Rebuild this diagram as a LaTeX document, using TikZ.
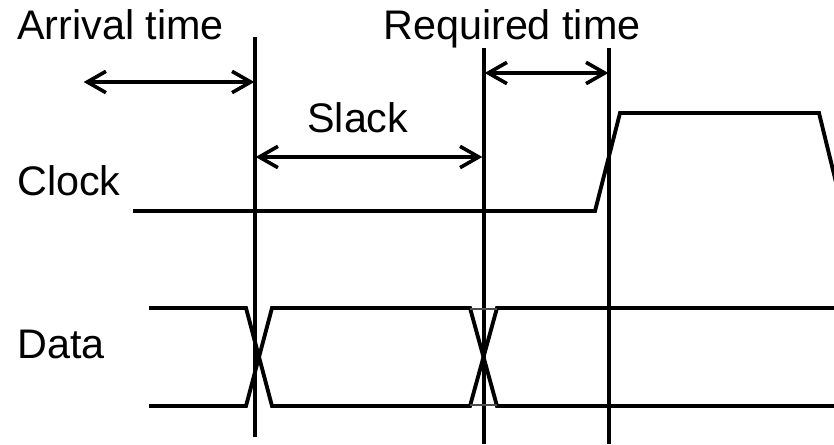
\documentclass[tikz,border=0pt]{standalone}
\usepackage{fontspec}
\setmainfont{Liberation Sans}
\usetikzlibrary{arrows.meta}

\tikzset{
  lbl/.style={anchor=base west, inner sep=0pt, font=\fontsize{31}{36}\selectfont},
  wave/.style={line width=2.9pt, line join=miter},
  marker/.style={line width=2.7pt},
  span/.style={line width=2.7pt, {Straight Barb[length=14pt,width=16pt,line width=2.7pt]}-{Straight Barb[length=14pt,width=16pt,line width=2.7pt]}, shorten <=0.5pt, shorten >=0.5pt},
  seam/.style={line width=0.8pt, black!70}
}

\begin{document}
\begin{tikzpicture}[x=0.75pt, y=-0.75pt]
  \useasboundingbox (0,0) rectangle (834,444);
  \clip (0,0) rectangle (834,444);

  % labels
  \node[lbl] (arr) at (17,39) {Arrival time};
  \node[lbl] (req) at (383,39) {Required time};
  \node[lbl] (slk) at (307,132) {Slack};
  \node[lbl] (clk) at (17,195) {Clock};
  \node[lbl] (dat) at (17,358) {Data};

  % timing markers
  \coordinate (m1t) at (255,37);  \coordinate (m1b) at (255,437);
  \coordinate (m2t) at (484,48);  \coordinate (m2b) at (484,444);
  \coordinate (m3t) at (609,48);  \coordinate (m3b) at (609,444);
  \draw[marker] (m1t) -- (m1b);
  \draw[marker] (m2t) -- (m2b);
  \draw[marker] (m3t) -- (m3b);

  % interval arrows
  \coordinate (a0) at (83,82);   \coordinate (a1) at (255,82);
  \coordinate (r0) at (484,73);  \coordinate (r1) at (609,73);
  \coordinate (s0) at (255,157); \coordinate (s1) at (483,157);
  \draw[span] (a0) -- (a1);
  \draw[span] (r0) -- (r1);
  \draw[span] (s0) -- (s1);

  % clock waveform
  \draw[wave] (133,211) -- (595,211) -- (620,113) -- (819,113) -- (843,211);

  % data waveform: upper and lower rails with two crossings
  \draw[wave] (149,308) -- (246,308) -- (272,406) -- (470,406) -- (497,308) -- (834,308);
  \draw[wave] (149,406) -- (246,406) -- (272,308) -- (470,308) -- (497,406) -- (834,406);
  \draw[seam] (470,309) -- (497,309);
  \draw[seam] (470,405) -- (497,405);
\end{tikzpicture}
\end{document}
